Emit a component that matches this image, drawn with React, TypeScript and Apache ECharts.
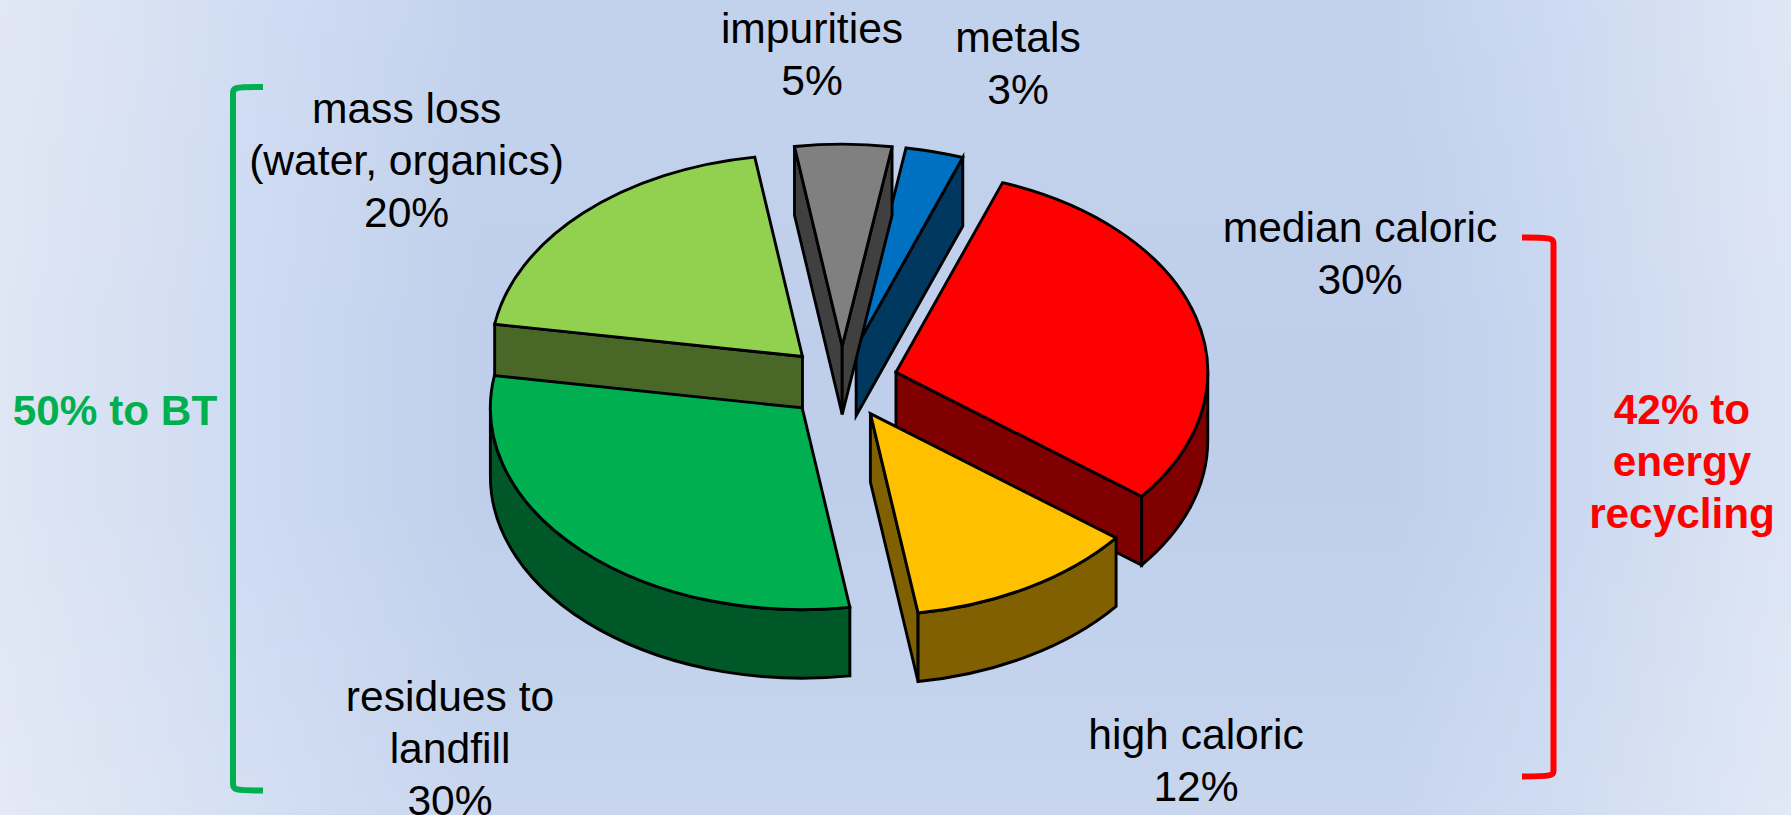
import React, { useEffect, useRef } from "react";
import * as echarts from "echarts";

// ---- data ----
const categories = ["median caloric", "high caloric", "residues to\nlandfill", "mass loss\n(water, organics)", "impurities", "metals"];
const values = [30, 12, 30, 20, 5, 3];
const firstSliceAngle = 20; // degrees clockwise from 12 o'clock
const groupLabels = ["50% to BT", "42% to\nenergy\nrecycling"];

// ---- styling ----
const topColors = ["#FF0000", "#FFC000", "#00B050", "#92D050", "#808080", "#0070C0"];
const wallColors = ["#800000", "#806000", "#005828", "#496828", "#404040", "#003860"];
const paintRanks = [4, 5, 1, 0, 3, 2];
const labelCenters = [
  [1360, 252.5],
  [1196, 760],
  [450, 747.5],
  [406.6, 160],
  [812, 53.5],
  [1018, 63],
];

const CX = 842;
const CY = 382.3;
const RX = 311.8;
const RY = 201.8;
const DEPTH = 68.5;
const EXPLODE = 0.18;
const EDGE = { stroke: "#000000", lineWidth: 2.9, lineJoin: "miter" as const, miterLimit: 10 };

const rad = (d: number) => (d * Math.PI) / 180;

const total = values.reduce((s, v) => s + v, 0);
const starts: number[] = [];
values.reduce((acc, v, i) => {
  starts[i] = acc;
  return acc + (v / total) * 360;
}, firstSliceAngle);

const renderSlice = (_params: any, api: any) => {
  const i = api.value(0) as number;
  const value = api.value(1) as number;
  const start = api.value(2) as number;
  const end = start + (value / total) * 360;
  const mid = (start + end) / 2;
  const cx = CX + EXPLODE * RX * Math.sin(rad(mid));
  const cy = CY - EXPLODE * RY * Math.cos(rad(mid));
  const pt = (deg: number, drop = 0) => {
    const x = cx + RX * Math.sin(rad(deg));
    const y = cy - RY * Math.cos(rad(deg)) + drop;
    return `${x.toFixed(2)} ${y.toFixed(2)}`;
  };
  const centre = (drop = 0) => `${cx.toFixed(2)} ${(cy + drop).toFixed(2)}`;
  const rank = paintRanks[i] * 10;
  const piece = (d: string, fill: string, z: number) => ({
    type: "path",
    z2: rank + z,
    shape: { pathData: d },
    style: { fill, ...EDGE },
  });
  const children: any[] = [];
  // radial walls, only those facing the viewer
  if (Math.sin(rad(start)) < 0) {
    children.push(piece(`M${centre()} L${pt(start)} L${pt(start, DEPTH)} L${centre(DEPTH)} Z`, wallColors[i], 0));
  }
  if (Math.sin(rad(end)) > 0) {
    children.push(piece(`M${centre()} L${pt(end)} L${pt(end, DEPTH)} L${centre(DEPTH)} Z`, wallColors[i], 0));
  }
  // front curved rim
  const a = Math.max(start, 90);
  const b = Math.min(end, 270);
  if (b > a) {
    children.push(
      piece(
        `M${pt(a)} A${RX} ${RY} 0 0 1 ${pt(b)} L${pt(b, DEPTH)} A${RX} ${RY} 0 0 0 ${pt(a, DEPTH)} Z`,
        wallColors[i],
        1,
      ),
    );
  }
  // top face
  const large = end - start > 180 ? 1 : 0;
  children.push(piece(`M${centre()} L${pt(start)} A${RX} ${RY} 0 ${large} 1 ${pt(end)} Z`, topColors[i], 2));
  return { type: "group", children };
};

const GREEN_BRACKET =
  "M263 87 C250 87 241 87 237 88 C234.5 88.6 233 90 233 93 L233 784 C233 787.5 234.5 788.8 237 789.4 C241 790.3 250 790.5 263 790.5";
const RED_BRACKET =
  "M1522 237.5 C1535 237.5 1544 237.7 1549 238.6 C1552 239.2 1553.5 240.5 1553.5 243 L1553.5 771 C1553.5 773.5 1552 774.8 1549 775.4 C1544 776.3 1535 776.5 1522 776.5";

const labelStyle = { fontFamily: "'Liberation Sans', Arial, sans-serif", fontSize: 42.6, lineHeight: 52, align: "center" as const, verticalAlign: "middle" as const };

export default function App() {
  const ref = useRef<HTMLDivElement>(null);
  useEffect(() => {
    document.body.style.margin = "0";
    if (!ref.current) return;
    echarts.graphic.registerShape("greenBracket", echarts.graphic.extendPath(GREEN_BRACKET, {}));
    echarts.graphic.registerShape("redBracket", echarts.graphic.extendPath(RED_BRACKET, {}));
    const chart = echarts.init(ref.current, undefined, { renderer: "svg" });
    chart.setOption({
      animation: false,
      backgroundColor: "transparent",
      series: [
        {
          type: "custom",
          coordinateSystem: "none",
          silent: true,
          renderItem: renderSlice,
          data: values.map((v, i) => [i, v, starts[i]]),
        },
      ],
      graphic: [
        ...categories.map((name, i) => ({
          type: "text",
          x: labelCenters[i][0],
          y: labelCenters[i][1],
          style: { text: `${name}\n${values[i]}%`, fill: "#000000", ...labelStyle },
        })),
        {
          type: "text",
          x: 115,
          y: 410,
          style: { text: groupLabels[0], fill: "#00B050", fontWeight: "bold", ...labelStyle, fontSize: 42.3 },
        },
        {
          type: "text",
          x: 1682,
          y: 461,
          style: { text: groupLabels[1], fill: "#FF0000", fontWeight: "bold", ...labelStyle, fontSize: 42.3 },
        },
        { type: "greenBracket", style: { fill: "none", stroke: "#00B050", lineWidth: 6 } },
        { type: "redBracket", style: { fill: "none", stroke: "#FF0000", lineWidth: 6 } },
      ],
    });
    return () => chart.dispose();
  }, []);
  return (
    <div
      ref={ref}
      style={{
        position: "fixed",
        left: 0,
        top: 0,
        width: 1791,
        height: 815,
        background:
          "linear-gradient(180deg, rgba(255,255,255,0.07) 0%, rgba(255,255,255,0) 45%, rgba(255,255,255,0) 60%, rgba(255,255,255,0.14) 100%), linear-gradient(90deg, #DFE6F4 0%, #D6E0F2 8%, #CEDBF3 13.4%, #C7D5EE 20%, #BFCFEB 27%, #BFCFEB 78%, #C9D7F0 87%, #D1DDF1 92.5%, #DAE3F4 98%, #DCE5F4 100%)",
      }}
    />
  );
}
